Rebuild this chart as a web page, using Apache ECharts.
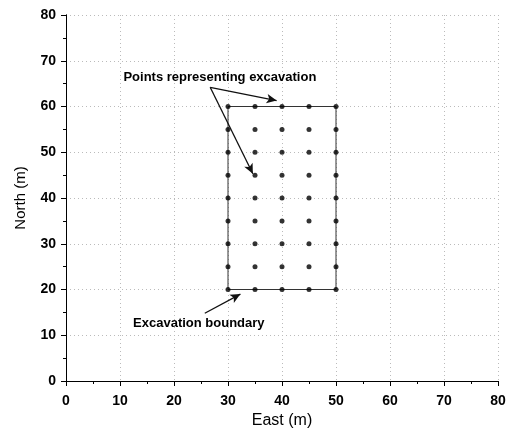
<!DOCTYPE html>
<html>
<head>
<meta charset="utf-8">
<script src="https://cdn.jsdelivr.net/npm/echarts@6/dist/echarts.min.js"></script>
<style>
  html, body { margin: 0; padding: 0; background: #fff; }
  #chart { width: 511px; height: 440px; }
</style>
</head>
<body>
<div id="chart"></div>
<script>
  // points representing the excavation (grid 5 m)
  var eastValues = [30, 35, 40, 45, 50]
  var northValues = [20, 25, 30, 35, 40, 45, 50, 55, 60]
  // excavation boundary corners
  var boundaryEast = [30, 50, 50, 30, 30]
  var boundaryNorth = [20, 20, 60, 60, 20]
  var axisTicks = [0, 10, 20, 30, 40, 50, 60, 70, 80]

  var points = []
  northValues.forEach(function (n) {
    eastValues.forEach(function (e) {
      points.push([e, n])
    })
  })
  var boundary = boundaryEast.map(function (e, i) {
    return [e, boundaryNorth[i]]
  })

  var labelFont = { fontFamily: 'Liberation Sans', fontWeight: 'bold', fontSize: 14, color: '#000' }
  var frameAxis = {
    type: 'value',
    min: axisTicks[0],
    max: axisTicks[axisTicks.length - 1],
    interval: 10,
    axisLine: { show: true, lineStyle: { color: '#000', width: 1 } },
    axisTick: { show: true, inside: true, length: 4, lineStyle: { color: '#000' } },
    minorTick: { show: true, splitNumber: 2, length: 2, lineStyle: { color: '#000' } },
    axisLabel: { show: false },
    splitLine: { show: false }
  }

  var chart = echarts.init(document.getElementById('chart'))
  chart.setOption({
    animation: false,
    grid: { left: 66, right: 13, top: 15, bottom: 59 },
    xAxis: [{
      type: 'value',
      min: axisTicks[0],
      max: axisTicks[axisTicks.length - 1],
      interval: 10,
      name: 'East (m)',
      nameLocation: 'middle',
      nameGap: 31,
      nameTextStyle: { fontFamily: 'Liberation Sans', fontSize: 16, color: '#000' },
      axisLine: { lineStyle: { color: '#000', width: 1 } },
      axisTick: { length: 5, lineStyle: { color: '#000' } },
      minorTick: { show: true, splitNumber: 2, length: 3, lineStyle: { color: '#000' } },
      axisLabel: Object.assign({ margin: 13 }, labelFont),
      splitLine: { show: true, lineStyle: { color: '#bbb', type: [1, 3], width: 1 } }
    }, Object.assign({ position: 'top' }, frameAxis)],
    yAxis: [{
      type: 'value',
      min: axisTicks[0],
      max: axisTicks[axisTicks.length - 1],
      interval: 10,
      name: 'North (m)',
      nameLocation: 'middle',
      nameGap: 38,
      nameTextStyle: { fontFamily: 'Liberation Sans', fontSize: 15, color: '#000' },
      axisLine: { show: true, lineStyle: { color: '#000', width: 1 } },
      axisTick: { show: true, length: 5, lineStyle: { color: '#000' } },
      minorTick: { show: true, splitNumber: 2, length: 3, lineStyle: { color: '#000' } },
      axisLabel: Object.assign({ margin: 10 }, labelFont),
      splitLine: { show: true, lineStyle: { color: '#bbb', type: [1, 3], width: 1 } }
    }, Object.assign({ position: 'right' }, frameAxis)],
    series: [
      {
        name: 'boundary',
        type: 'line',
        data: boundary,
        symbol: 'none',
        lineStyle: { color: '#333', width: 1 },
        z: 2,
        markLine: {
          silent: true,
          symbol: ['none', 'arrow'],
          symbolSize: [7, 10],
          lineStyle: { color: '#111', width: 1.3, type: 'solid' },
          label: { show: false },
          data: [
            [{ coord: [26.7, 64.2] }, { coord: [39, 61.3] }],
            [{ coord: [26.7, 64.2] }, { coord: [34.6, 45.3] }],
            [{ coord: [25.7, 14.8] }, { coord: [32.3, 19] }]
          ]
        }
      },
      {
        name: 'points',
        type: 'scatter',
        data: points,
        symbol: 'circle',
        symbolSize: 5,
        itemStyle: { color: '#000' },
        z: 3
      }
    ]
  })

  // annotation texts placed in data coordinates
  var notes = [
    { text: 'Points representing excavation', at: [28.5, 66.4] },
    { text: 'Excavation boundary', at: [24.6, 12.6] }
  ]
  chart.setOption({
    graphic: notes.map(function (n) {
      var p = chart.convertToPixel({ gridIndex: 0 }, n.at)
      return {
        type: 'text',
        x: p[0],
        y: p[1],
        style: {
          text: n.text,
          fill: '#000',
          font: 'bold 13px "Liberation Sans"',
          align: 'center',
          verticalAlign: 'middle'
        }
      }
    })
  })
</script>
</body>
</html>
